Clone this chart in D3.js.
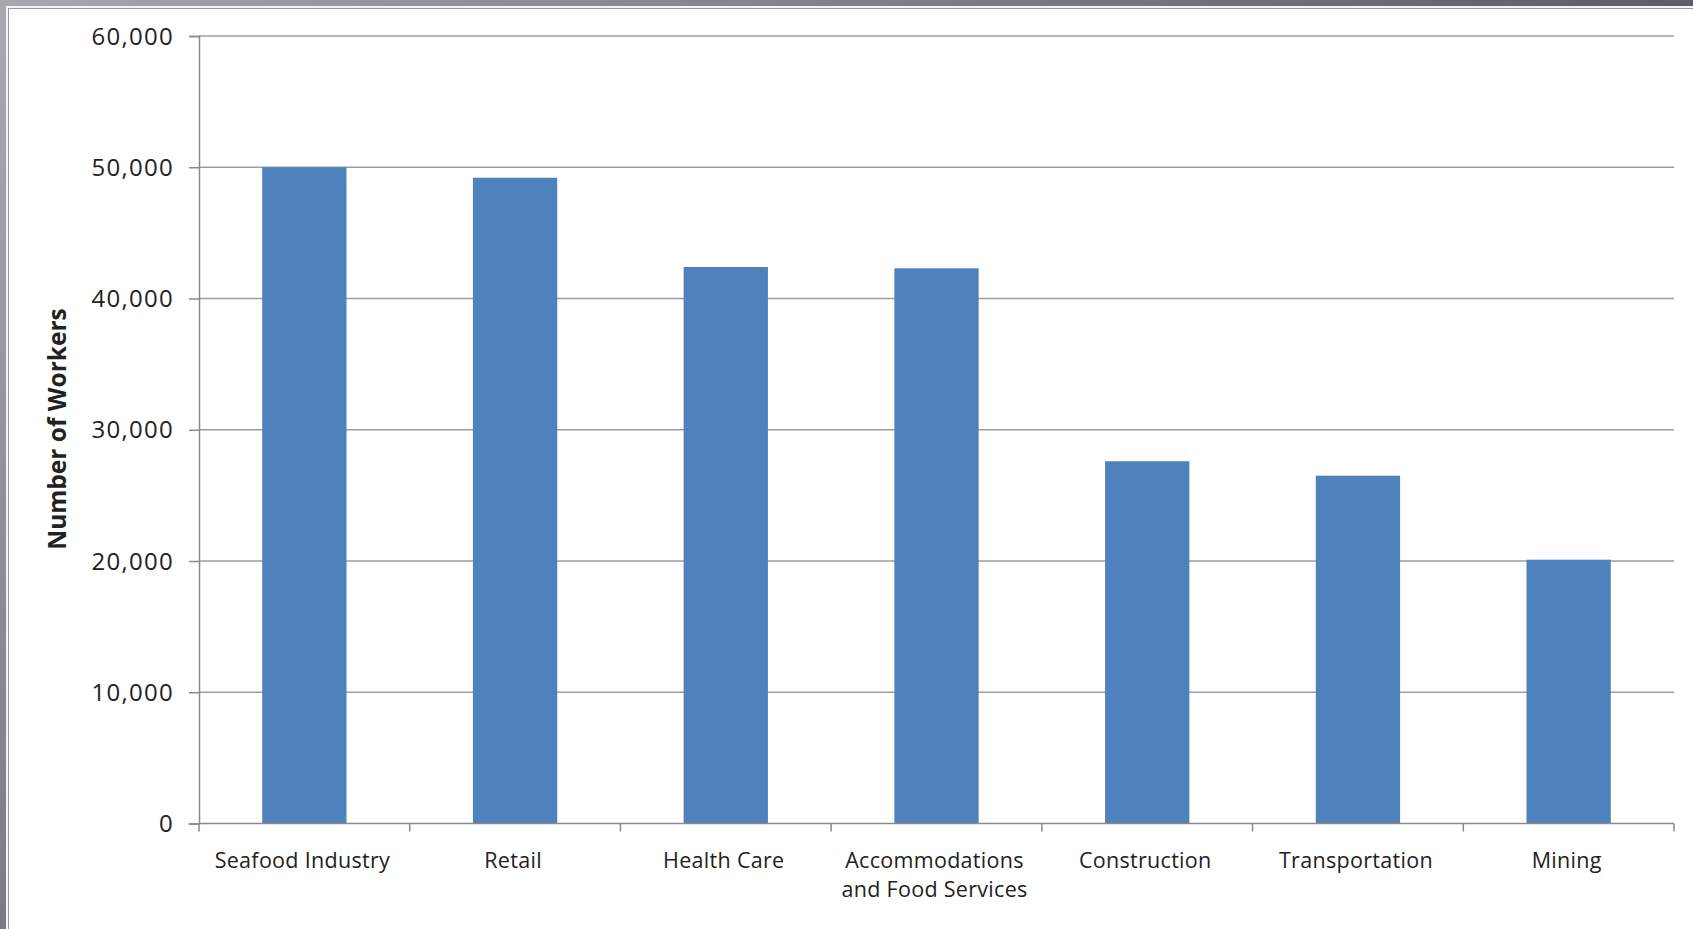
<!DOCTYPE html>
<html>
<head>
<meta charset="utf-8">
<script src="https://cdn.jsdelivr.net/npm/d3@7"></script>
<style>
  html, body { margin: 0; padding: 0; background: #a7a5a9; }
  svg { display: block; }
  text { font-family: "Open Sans", "Noto Sans", sans-serif; fill: #222; }
</style>
</head>
<body>
<svg id="chart" width="1693" height="929"></svg>
<script>
// Workers by industry
const categories = [
  ["Seafood Industry"],
  ["Retail"],
  ["Health Care"],
  ["Accommodations", "and Food Services"],
  ["Construction"],
  ["Transportation"],
  ["Mining"]
];
const workers = [50000, 49200, 42400, 42300, 27600, 26500, 20100];
const yTicks = [0, 10000, 20000, 30000, 40000, 50000, 60000];
const yTitle = "Number of Workers";

const W = 1693, H = 929;
const svg = d3.select("#chart");

// Window frame around the chart panel
const defs = svg.append("defs");
const topGrad = defs.append("linearGradient").attr("id", "topBand").attr("x1", 0).attr("x2", 1);
topGrad.append("stop").attr("offset", "0%").attr("stop-color", "#a9a7ab");
topGrad.append("stop").attr("offset", "35%").attr("stop-color", "#8d8a90");
topGrad.append("stop").attr("offset", "100%").attr("stop-color", "#5f5d62");
const leftGrad = defs.append("linearGradient").attr("id", "leftBand").attr("x1", 0).attr("x2", 0).attr("y1", 0).attr("y2", 1);
leftGrad.append("stop").attr("offset", "0%").attr("stop-color", "#aba9ad");
leftGrad.append("stop").attr("offset", "100%").attr("stop-color", "#7d7b80");

svg.append("rect").attr("x", 0).attr("y", 0).attr("width", W).attr("height", H).attr("fill", "url(#leftBand)");
svg.append("rect").attr("x", 0).attr("y", 0).attr("width", W).attr("height", 6).attr("fill", "url(#topBand)");
svg.append("rect").attr("x", 6).attr("y", 6).attr("width", W - 6).attr("height", H - 6).attr("fill", "#f4f4f4");
svg.append("rect").attr("x", 8.5).attr("y", 8.5).attr("width", W - 8).attr("height", H - 8)
  .attr("fill", "#ffffff").attr("stroke", "#9a9a9a").attr("stroke-width", 1);

// Plot area
const plot = { left: 199, right: 1674, top: 36, bottom: 823.5 };

const x = d3.scaleBand()
  .domain(d3.range(categories.length))
  .range([plot.left, plot.right])
  .padding(0);

const y = d3.scaleLinear()
  .domain([0, 60000])
  .range([plot.bottom, plot.top]);

const g = svg.append("g");

// Horizontal gridlines
g.append("g")
  .selectAll("line")
  .data(yTicks.filter(d => d > 0))
  .join("line")
  .attr("x1", plot.left).attr("x2", plot.right)
  .attr("y1", d => y(d)).attr("y2", d => y(d))
  .attr("stroke", "#9d9d9d").attr("stroke-width", 1.5);

// Bars
const barFrac = 0.4;
g.append("g")
  .selectAll("rect")
  .data(workers)
  .join("rect")
  .attr("x", (d, i) => x(i) + x.bandwidth() * (1 - barFrac) / 2)
  .attr("width", x.bandwidth() * barFrac)
  .attr("y", d => y(d))
  .attr("height", d => y(0) - y(d))
  .attr("fill", "#4f81bd");

// Y axis
const yAxis = d3.axisLeft(y)
  .tickValues(yTicks)
  .tickSize(10)
  .tickPadding(15)
  .tickFormat(d3.format(","));
const yg = g.append("g").attr("transform", `translate(${plot.left},0)`).call(yAxis);
yg.select(".domain").attr("stroke", "#8a8a8a").attr("stroke-width", 1.5);
yg.selectAll(".tick line").attr("stroke", "#8a8a8a").attr("stroke-width", 1.5);
yg.selectAll(".tick text")
  .attr("font-family", "'Open Sans', sans-serif")
  .attr("font-size", 24)
  .attr("letter-spacing", 1.3)
  .attr("fill", "#222")
  .attr("dy", "0.34em");

// X axis: category ticks on slot boundaries
const xg = g.append("g");
xg.append("line")
  .attr("x1", plot.left).attr("x2", plot.right)
  .attr("y1", y(0)).attr("y2", y(0))
  .attr("stroke", "#8a8a8a").attr("stroke-width", 1.5);
const boundaries = d3.range(categories.length + 1).map(i => i < categories.length ? x(i) : x(i - 1) + x.bandwidth());
xg.selectAll("line.xt")
  .data(boundaries)
  .join("line")
  .attr("class", "xt")
  .attr("x1", d => d).attr("x2", d => d)
  .attr("y1", y(0)).attr("y2", y(0) + 8)
  .attr("stroke", "#8a8a8a").attr("stroke-width", 1.5);

// Category labels
const lab = xg.selectAll("text.cat")
  .data(categories)
  .join("text")
  .attr("class", "cat")
  .attr("text-anchor", "middle")
  .attr("font-size", 21.5)
  .attr("letter-spacing", 0.3)
  .attr("fill", "#222")
  .attr("transform", (d, i) => `translate(${x(i) + x.bandwidth() / 2 - 2},868)`);
lab.selectAll("tspan")
  .data(d => d)
  .join("tspan")
  .attr("x", 0)
  .attr("y", (d, j) => j * 28.5)
  .text(d => d);

// Y axis title
svg.append("text")
  .attr("transform", "translate(66,429) rotate(-90)")
  .attr("text-anchor", "middle")
  .attr("font-size", 24.5)
  .attr("font-weight", 700)
  .attr("fill", "#111")
  .text(yTitle);
</script>
</body>
</html>
